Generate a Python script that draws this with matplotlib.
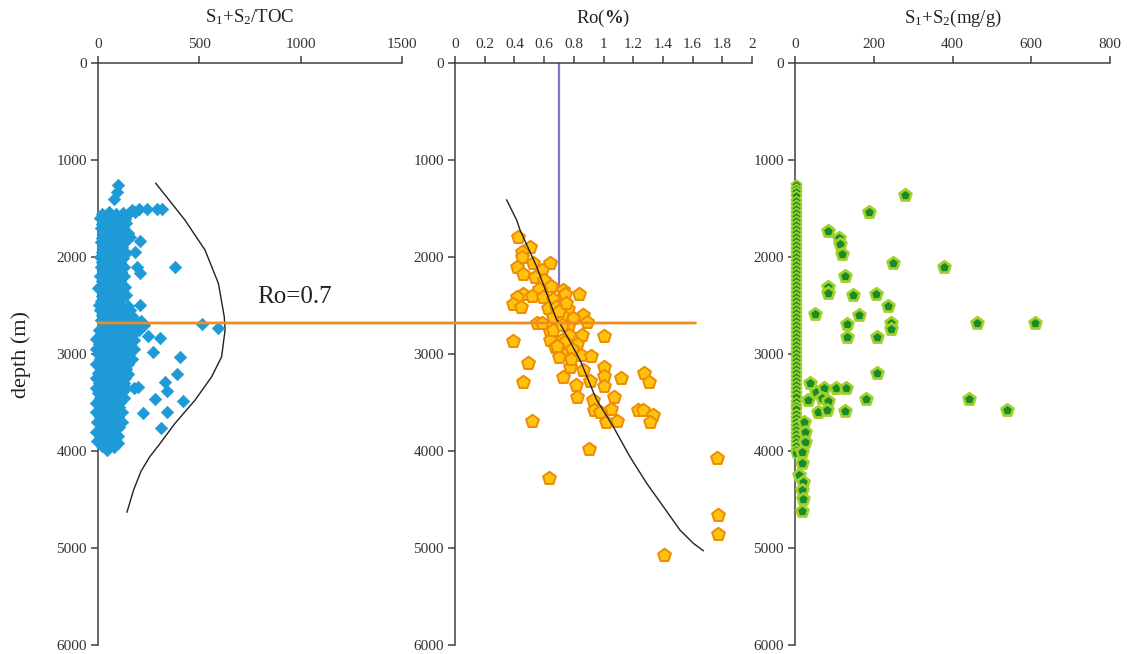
import matplotlib
matplotlib.use("Agg")
import matplotlib.pyplot as plt
from matplotlib.patches import ConnectionPatch

plt.rcParams['font.family'] = ['Liberation Serif', 'DejaVu Serif']
plt.rcParams['mathtext.fontset'] = 'custom'
plt.rcParams['mathtext.rm'] = 'Liberation Serif'
plt.rcParams['mathtext.it'] = 'Liberation Serif:italic'
plt.rcParams['mathtext.bf'] = 'Liberation Serif:bold'
plt.rcParams['mathtext.default'] = 'regular'

# ---------------- data ----------------
depth_ticks = [0, 1000, 2000, 3000, 4000, 5000, 6000]
toc_ticks = [0, 500, 1000, 1500]
ro_ticks = [0, 0.2, 0.4, 0.6, 0.8, 1, 1.2, 1.4, 1.6, 1.8, 2]
ro_tick_labels = ['0', '0.2', '0.4', '0.6', '0.8', '1', '1.2', '1.4', '1.6', '1.8', '2']
s12_ticks = [0, 200, 400, 600, 800]

# S1+S2/TOC dense cluster (value, depth)
toc_value = [
    18, 52, 88, 122, 155, 185,
    12, 44, 76, 104, 132,
    22, 50, 82, 112, 140,
    15, 46, 74, 106, 128,
    26, 56, 86, 114, 146,
    20, 50, 80, 110, 158,
    14, 44, 76, 104, 128,
    24, 56, 84, 116,
    18, 50, 80, 108, 138,
    10, 40, 70, 100, 124,
    22, 52, 82, 110,
    14, 46, 74, 104, 128,
    26, 56, 86, 114,
    10, 40, 70, 100, 130,
    20, 50, 80, 110,
    16, 46, 76, 106, 134,
    26, 56, 86, 116,
    20, 50, 80, 110, 140,
    14, 44, 74, 104,
    24, 54, 86, 116, 150,
    10, 40, 70, 100, 130, 160,
    20, 50, 80, 110, 140, 170,
    14, 44, 76, 106, 136, 176, 210,
    24, 56, 86, 116, 146, 190, 228,
    4, 34, 66, 96, 126, 160, 200,
    10, 40, 70, 100, 130, 166, 248,
    -10, 20, 50, 80, 110, 140, 180,
    4, 34, 64, 96, 126, 160,
    -12, 16, 46, 76, 106, 136, 176,
    0, 30, 60, 90, 120, 150,
    10, 40, 70, 100, 130, 166,
    -8, 24, 54, 84, 114, 150,
    14, 44, 76, 106, 140,
    0, 30, 60, 90, 120, 150,
    -10, 18, 48, 78, 108, 134,
    4, 34, 64, 96, 126,
    -12, 16, 46, 76, 106, 140, 178,
    0, 30, 60, 90, 120,
    10, 40, 70, 100, 130,
    -10, 20, 50, 80, 110,
    14, 44, 76, 106,
    -8, 24, 54, 84, 118,
    10, 40, 70, 100,
    -6, 24, 54, 84, 120,
    14, 44, 76, 106,
    -10, 20, 50, 80,
    10, 40, 70, 100,
    -4, 26, 56, 86,
    20, 50, 80,
]
toc_depth = [
    1552, 1540, 1556, 1545, 1550, 1538,
    1602, 1595, 1608, 1598, 1605,
    1655, 1662, 1650, 1658, 1648,
    1705, 1700, 1710, 1702, 1712,
    1752, 1760, 1748, 1758, 1755,
    1805, 1798, 1808, 1800, 1795,
    1850, 1856, 1845, 1852, 1858,
    1902, 1895, 1905, 1898,
    1948, 1955, 1950, 1945, 1958,
    2002, 1998, 2005, 2000, 2008,
    2050, 2055, 2046, 2052,
    2098, 2104, 2100, 2095, 2106,
    2152, 2148, 2155, 2150,
    2200, 2205, 2198, 2203, 2196,
    2252, 2248, 2255, 2250,
    2300, 2304, 2297, 2302, 2306,
    2350, 2346, 2354, 2349,
    2402, 2398, 2405, 2400, 2396,
    2450, 2455, 2447, 2452,
    2500, 2504, 2497, 2502, 2506,
    2550, 2546, 2554, 2549, 2552, 2548,
    2600, 2604, 2597, 2602, 2598, 2605,
    2650, 2646, 2654, 2649, 2652, 2648, 2655,
    2700, 2705, 2697, 2702, 2698, 2704, 2700,
    2752, 2748, 2755, 2750, 2746, 2754, 2750,
    2800, 2805, 2798, 2803, 2796, 2802, 2810,
    2850, 2852, 2847, 2855, 2850, 2846, 2853,
    2902, 2898, 2905, 2900, 2896, 2903,
    2950, 2952, 2948, 2955, 2950, 2946, 2953,
    3000, 3005, 2998, 3003, 2996, 3002,
    3050, 3046, 3054, 3049, 3052, 3048,
    3100, 3104, 3097, 3102, 3098, 3105,
    3150, 3146, 3154, 3149, 3152,
    3200, 3205, 3198, 3203, 3196, 3202,
    3250, 3252, 3248, 3255, 3250, 3246,
    3300, 3304, 3297, 3302, 3298,
    3350, 3346, 3354, 3349, 3352, 3348, 3350,
    3400, 3405, 3398, 3403, 3396,
    3450, 3446, 3454, 3449, 3452,
    3500, 3504, 3497, 3502, 3498,
    3550, 3546, 3554, 3549,
    3600, 3605, 3598, 3603, 3596,
    3650, 3646, 3654, 3649,
    3700, 3704, 3697, 3702, 3698,
    3750, 3746, 3754, 3749,
    3800, 3805, 3798, 3803,
    3850, 3846, 3854, 3849,
    3900, 3904, 3897, 3902,
    3950, 3946, 3954,
]
# S1+S2/TOC scattered samples
toc_out_value = [100, 92, 81, 170, 200, 240, 289, 314, 207, 183, 191, 207, 380, 2, 5, 207,
                 512, 594, 306, 273, 405, 388, 331, 199, 339, 281, 418, 224, 339, 311, 43, 100]
toc_out_depth = [1258, 1327, 1405, 1512, 1508, 1508, 1508, 1508, 1832, 1945, 2100, 2168, 2107, 2323, 2495, 2495,
                 2691, 2735, 2839, 2976, 3034, 3206, 3286, 3337, 3382, 3468, 3482, 3605, 3595, 3767, 3990, 3921]
# hydrocarbon-generation envelope curve
toc_curve_value = [285, 429, 528, 594, 623, 627, 610, 561, 479, 380, 300, 255, 212, 176, 143]
toc_curve_depth = [1240, 1619, 1928, 2271, 2616, 2753, 3028, 3234, 3475, 3715, 3940, 4060, 4210, 4400, 4630]

# Ro samples
ro_value = [0.426, 0.505, 0.449, 0.449, 0.523, 0.640, 0.415, 0.588, 0.456, 0.539, 0.601, 0.646, 0.568,
            0.729, 0.460, 0.516, 0.415, 0.595, 0.741, 0.835, 0.662, 0.388, 0.444, 0.628, 0.759, 0.860,
            0.797, 0.887, 0.662, 0.718, 0.550, 0.584, 0.763, 0.640, 0.770, 0.857, 1.006, 0.393, 0.640,
            0.718, 0.819, 0.673, 0.763, 0.848, 0.916, 0.702, 0.494, 0.774, 1.003, 1.006, 0.729, 1.118,
            1.275, 1.308, 0.460, 0.909, 0.815, 1.003, 0.819, 1.071, 0.931, 0.938, 1.051, 0.976, 1.230,
            1.268, 1.331, 1.313, 1.017, 1.089, 0.516, 0.905, 0.635, 1.767, 1.774, 1.770, 1.410,
            0.68, 0.70, 0.75, 0.66, 0.72, 0.74, 0.79, 0.69, 0.78, 0.86]
ro_depth = [1797, 1894, 1945, 2003, 2065, 2059, 2107, 2134, 2175, 2203, 2237, 2299, 2333,
            2340, 2385, 2402, 2409, 2409, 2382, 2385, 2436, 2488, 2519, 2529, 2539, 2598,
            2632, 2667, 2615, 2598, 2677, 2677, 2719, 2770, 2804, 2804, 2815, 2863, 2856,
            2856, 2900, 2931, 2977, 3011, 3021, 3028, 3090, 3131, 3131, 3227, 3241, 3251,
            3199, 3292, 3286, 3279, 3320, 3330, 3440, 3440, 3474, 3578, 3571, 3595, 3578,
            3578, 3629, 3698, 3698, 3688, 3688, 3983, 4282, 4076, 4660, 4859, 5072,
            2520, 2560, 2470, 2750, 2700, 2880, 2950, 2920, 3050, 3160]
ro_curve_value = [0.348, 0.415, 0.438, 0.550, 0.685, 0.707, 0.842, 0.954, 1.066, 1.178, 1.291, 1.403, 1.515, 1.605, 1.672]
ro_curve_depth = [1412, 1619, 1722, 2100, 2650, 2684, 3062, 3474, 3750, 4059, 4333, 4574, 4815, 4952, 5028]
ro_threshold = 0.7
threshold_depth = 2680
threshold_line_end = 1.62

# S1+S2 samples
s12_col_depth = [1262, 1298, 1335, 1372, 1420, 1462, 1503, 1545, 1586, 1628, 1669, 1710, 1752, 1793,
                 1834, 1876, 1917, 1958, 2000, 2041, 2083, 2124, 2165, 2207, 2248, 2290, 2331, 2372,
                 2414, 2455, 2496, 2538, 2579, 2621, 2662, 2703, 2745, 2786, 2828, 2869, 2910, 2952,
                 2993, 3034, 3076, 3117, 3159, 3200, 3241, 3283, 3324, 3365, 3407, 3448, 3490, 3531,
                 3572, 3614, 3655, 3696, 3738, 3779, 3821, 3862, 3903, 3945, 3986, 4020]
s12_col_value = [2, 3, 2, 2, 3, 2, 2, 3, 2, 2, 3, 2, 2, 2, 3, 2, 2, 3, 2, 2, 2, 3, 2, 2, 3, 2, 2, 2,
                 3, 2, 2, 3, 2, 2, 2, 3, 2, 2, 3, 2, 2, 2, 3, 2, 2, 3, 2, 2, 2, 3, 2, 2, 3, 2, 2, 2,
                 3, 2, 2, 3, 2, 2, 2, 3, 2, 2, 3, 2]
s12_value = [279, 189, 83, 113, 114, 119, 250, 379, 127, 85, 85, 147, 206, 235, 51, 163, 463, 610,
             131, 243, 243, 131, 209, 207, 38, 53, 74, 104, 130, 68, 85, 32, 180, 443, 538, 58, 80, 127,
             24, 25, 25, 17, 17, 11, 20, 18, 20, 17]
s12_depth = [1361, 1540, 1729, 1808, 1866, 1969, 2065, 2107, 2196, 2306, 2375, 2392, 2382, 2502, 2591,
             2598, 2684, 2684, 2694, 2684, 2742, 2828, 2821, 3193, 3296, 3389, 3354, 3351, 3351, 3457,
             3482, 3474, 3467, 3467, 3578, 3602, 3578, 3585,
             3698, 3801, 3904, 4007, 4127, 4248, 4317, 4402, 4498, 4619]

# ---------------- style ----------------
W, H = 1127, 654
fig = plt.figure(figsize=(W / 100, H / 100), dpi=100)
top_px, bot_px = 63, 645
axes_px = [(98, 402), (455, 752), (795, 1110)]
axs = []
for (l, r) in axes_px:
    ax = fig.add_axes([l / W, 1 - bot_px / H, (r - l) / W, (bot_px - top_px) / H])
    axs.append(ax)

spine_c = '#404040'
for ax in axs:
    ax.set_ylim(6000, 0)
    ax.set_yticks(depth_ticks)
    ax.xaxis.set_ticks_position('top')
    ax.xaxis.set_label_position('top')
    for s in ['right', 'bottom']:
        ax.spines[s].set_visible(False)
    for s in ['left', 'top']:
        ax.spines[s].set_color(spine_c)
        ax.spines[s].set_linewidth(1.1)
    ax.tick_params(axis='both', direction='out', length=5, width=1.1, color=spine_c,
                   labelsize=11, labelcolor='#333333', pad=3)
    ax.tick_params(axis='x', pad=3.5)
    ax.set_facecolor('none')

ax1, ax2, ax3 = axs
ax1.set_xlim(0, 1500)
ax1.set_xticks(toc_ticks)
ax2.set_xlim(0, 2)
ax2.set_xticks(ro_ticks)
ax2.set_xticklabels(ro_tick_labels)
ax3.set_xlim(0, 800)
ax3.set_xticks(s12_ticks)

title_kw = dict(fontsize=13.5, color='#222222', pad=29)
ax1.set_title(r'S$_1$+S$_2$/TOC', **title_kw)
ax2.set_title(r'Ro($\mathbf{\%}$)', **title_kw)
ax3.set_title(r'S$_1$+S$_2$(mg/g)', **title_kw)
ax1.set_ylabel('depth (m)', fontsize=16, color='#222222', labelpad=18)

# panel 1
blue = '#1E9BD7'
ax1.scatter(toc_value, toc_depth, marker='D', s=40, c=blue, edgecolors=blue, linewidths=0.5,
            clip_on=False, zorder=3)
ax1.scatter(toc_out_value, toc_out_depth, marker='D', s=40, c=blue, edgecolors=blue, linewidths=0.5,
            clip_on=False, zorder=3)
ax1.plot(toc_curve_value, toc_curve_depth, color='#222222', lw=1.0, zorder=2)
ax1.text(972, 2413, 'Ro=0.7', fontsize=18, ha='center', va='center', color='#222222')

# panel 2
ax2.plot([ro_threshold, ro_threshold], [0, threshold_depth], color='#7B78C4', lw=1.6, zorder=2)
ax2.scatter(ro_value, ro_depth, marker='p', s=95, c='#FFC20E', edgecolors='#F08A00', linewidths=1.4,
            zorder=3, clip_on=False)
ax2.plot(ro_curve_value, ro_curve_depth, color='#222222', lw=1.0, zorder=4)

# threshold line spanning panels 1-2
con = ConnectionPatch(xyA=(0, threshold_depth), coordsA=ax1.transData,
                      xyB=(threshold_line_end, threshold_depth), coordsB=ax2.transData,
                      color='#F28C1E', lw=2.0, zorder=5)
fig.add_artist(con)

# panel 3
ax3.scatter(s12_col_value, s12_col_depth, marker='p', s=58, c='#178A2A', edgecolors='#9FD12A',
            linewidths=1.3, zorder=3, clip_on=False)
ax3.scatter(s12_value, s12_depth, marker='p', s=80, c='#178A2A', edgecolors='#9FD12A',
            linewidths=2.0, zorder=3, clip_on=False)

fig.savefig('out.png', dpi=100, facecolor='white')
